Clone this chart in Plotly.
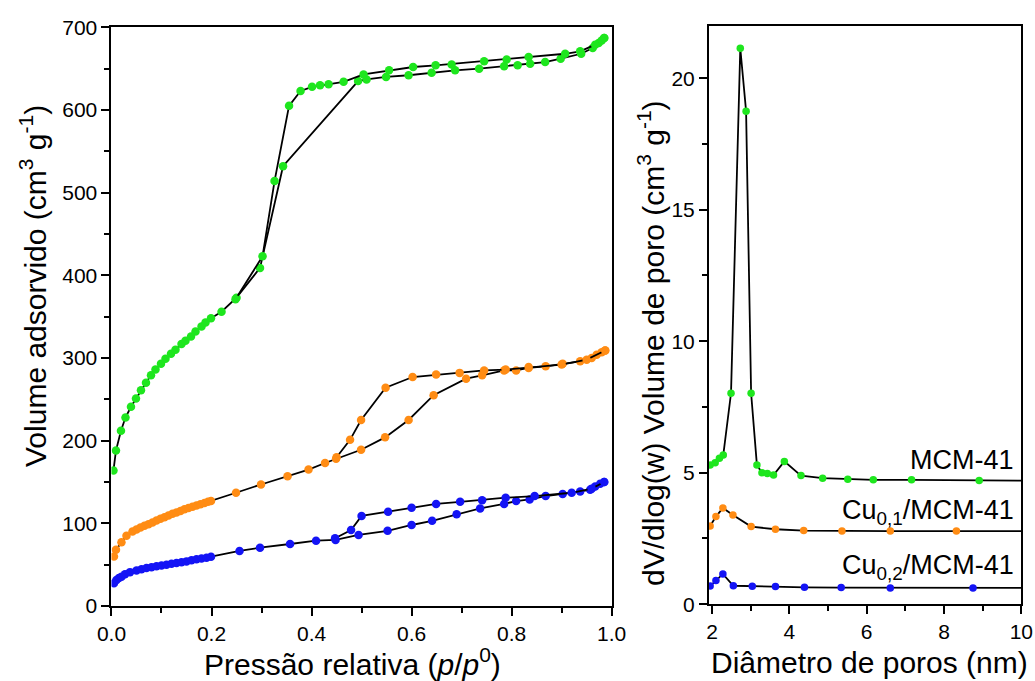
import plotly.graph_objects as go

# ---------------- Left panel: N2 isotherms ----------------
# MCM-41 (green)
green_ads_p = [0.004, 0.009, 0.019, 0.028, 0.039, 0.049, 0.059, 0.069, 0.079, 0.088, 0.099, 0.108,
               0.119, 0.128, 0.140, 0.148, 0.159, 0.168, 0.180, 0.188, 0.199, 0.220, 0.250, 0.297,
               0.343, 0.493, 0.510, 0.549, 0.594, 0.640, 0.687, 0.735, 0.785, 0.812, 0.837, 0.867,
               0.898, 0.939, 0.962, 0.974, 0.985]
green_ads_v = [164, 188, 212, 228, 241, 251, 261, 270, 279, 286, 293, 299,
               305, 310, 317, 321, 326, 332, 338, 343, 348, 356, 373, 409,
               532, 635, 637, 640, 642, 645, 648, 650, 653, 654, 656, 658,
               662, 668, 675, 681, 687]
green_des_p = [0.985, 0.980, 0.967, 0.937, 0.907, 0.834, 0.790, 0.745, 0.680, 0.648, 0.603, 0.555,
               0.504, 0.464, 0.434, 0.417, 0.401, 0.378, 0.355, 0.326, 0.302, 0.248]
green_des_v = [687, 684, 679, 671, 668, 664, 661, 659, 655, 654, 652, 648,
               643, 634, 631, 630, 628, 623, 605, 514, 423, 371]

# Cu0,1/MCM-41 (orange)
orange_ads_p = [0.005, 0.009, 0.020, 0.030, 0.042, 0.050, 0.058, 0.066, 0.074, 0.082, 0.090, 0.098,
                0.106, 0.114, 0.122, 0.130, 0.138, 0.146, 0.154, 0.162, 0.170, 0.178, 0.186, 0.193,
                0.199, 0.249, 0.299, 0.352, 0.394, 0.427, 0.449, 0.499, 0.547, 0.594, 0.644, 0.709,
                0.741, 0.785, 0.809, 0.834, 0.868, 0.902, 0.937, 0.960, 0.970, 0.980, 0.987]
orange_ads_v = [60, 68, 77, 85, 90, 92.5, 95, 97, 99, 101, 103.5, 105.5,
                107.5, 109.5, 111.5, 113, 115, 117, 118.5, 120, 121.5, 123, 124.5, 126,
                127, 137, 147, 157, 165, 173, 178, 189, 204, 225, 255, 275,
                279, 285, 285, 288, 290, 293, 296, 300, 304, 307, 309]
orange_des_p = [0.987, 0.950, 0.900, 0.834, 0.788, 0.745, 0.696, 0.649, 0.602, 0.548, 0.499, 0.477, 0.450]
orange_des_v = [309, 298, 292, 289, 286, 285, 282, 280, 277, 264, 225, 201, 180]

# Cu0,2/MCM-41 (blue)
blue_ads_p = [0.005, 0.010, 0.015, 0.020, 0.027, 0.037, 0.050, 0.060, 0.070, 0.080, 0.090, 0.100,
              0.110, 0.120, 0.130, 0.140, 0.150, 0.160, 0.170, 0.180, 0.190, 0.199, 0.256, 0.297,
              0.357, 0.409, 0.448, 0.494, 0.552, 0.600, 0.641, 0.690, 0.737, 0.785, 0.809, 0.836,
              0.868, 0.902, 0.937, 0.957, 0.967, 0.977, 0.985]
blue_ads_v = [27.5, 31.5, 34, 35.5, 38.5, 41, 43, 44.5, 46, 47, 48, 49,
              50, 51, 52, 53, 54, 55.5, 56.5, 57.5, 58.5, 59.7, 66.6, 70.6,
              75, 79, 80, 86, 91, 98, 103, 111, 118, 123.5, 127, 129,
              133, 135.6, 138.5, 140.5, 144.5, 148, 150]
blue_des_p = [0.985, 0.960, 0.920, 0.846, 0.788, 0.741, 0.697, 0.649, 0.600, 0.553, 0.500, 0.479, 0.447]
blue_des_v = [150, 142, 137, 133, 131, 128, 126, 123.5, 119, 114, 109, 92, 82]

# ---------------- Right panel: pore size distribution ----------------
psd_green_d = [1.95, 2.08, 2.19, 2.29, 2.49, 2.73, 2.88, 3.01, 3.16, 3.29, 3.43, 3.59, 3.87, 4.30,
               4.86, 5.51, 6.17, 7.16, 8.91]
psd_green_v = [5.29, 5.38, 5.55, 5.67, 8.02, 21.14, 18.75, 8.02, 5.29, 5.00, 4.97, 4.91, 5.43, 4.89,
               4.79, 4.75, 4.73, 4.73, 4.70]
psd_orange_d = [1.95, 2.10, 2.28, 2.54, 3.01, 3.64, 4.37, 5.36, 6.61, 8.32]
psd_orange_v = [2.97, 3.33, 3.66, 3.39, 2.95, 2.85, 2.80, 2.78, 2.78, 2.78]
psd_blue_d = [1.95, 2.10, 2.28, 2.55, 3.04, 3.64, 4.39, 5.34, 6.61, 8.75]
psd_blue_v = [0.69, 0.90, 1.15, 0.70, 0.68, 0.67, 0.64, 0.63, 0.62, 0.62]
psd_end_d = 10.0  # curves continue flat to the axis end

sample_labels = ["MCM-41", "Cu<sub>0,1</sub>/MCM-41", "Cu<sub>0,2</sub>/MCM-41"]
label_y = [5.5, 3.5, 1.4]

GREEN = "#1ee61e"
ORANGE = "#ff8c14"
BLUE = "#1414f5"
FONT = "Liberation Sans, Arial, sans-serif"

fig = go.Figure()

def iso(x, y, color):
    fig.add_trace(go.Scatter(x=x, y=y, mode="lines+markers", xaxis="x", yaxis="y",
                             line=dict(color="black", width=1.8),
                             marker=dict(color=color, size=8.5, line=dict(width=0)),
                             showlegend=False, hoverinfo="skip"))

for (xa, ya, xd, yd, c) in [(blue_ads_p, blue_ads_v, blue_des_p, blue_des_v, BLUE),
                            (orange_ads_p, orange_ads_v, orange_des_p, orange_des_v, ORANGE),
                            (green_ads_p, green_ads_v, green_des_p, green_des_v, GREEN)]:
    iso(xa, ya, c)
    iso(xd, yd, c)

for (d, v, c) in [(psd_green_d, psd_green_v, GREEN),
                  (psd_orange_d, psd_orange_v, ORANGE),
                  (psd_blue_d, psd_blue_v, BLUE)]:
    fig.add_trace(go.Scatter(x=d + [psd_end_d], y=v + [v[-1]], mode="lines", xaxis="x2", yaxis="y2",
                             line=dict(color="black", width=1.8), showlegend=False, hoverinfo="skip"))
    fig.add_trace(go.Scatter(x=d, y=v, mode="markers", xaxis="x2", yaxis="y2",
                             marker=dict(color=c, size=7.5, line=dict(width=0)),
                             showlegend=False, hoverinfo="skip"))

axis_common = dict(showgrid=False, zeroline=False, showline=True, linecolor="black", linewidth=2,
                   mirror=True, ticks="outside", ticklen=8, tickwidth=2, tickcolor="black",
                   automargin=False,
                   tickfont=dict(family=FONT, size=21, color="black"))

fig.update_layout(
    width=1035, height=681,
    margin=dict(l=0, r=0, t=0, b=0, pad=0, autoexpand=False),
    paper_bgcolor="white", plot_bgcolor="white",
    xaxis=dict(domain=[0.1077, 0.5910], range=[0, 1.0], dtick=0.2, tickformat=".1f",
               minor=dict(dtick=0.1, ticks="outside", ticklen=5, tickwidth=2, tickcolor="black"),
               anchor="y", **axis_common),
    yaxis=dict(domain=[0.1101, 0.9599], range=[0, 700], dtick=100,
               minor=dict(dtick=50, ticks="outside", ticklen=5, tickwidth=2, tickcolor="black"),
               anchor="x", **axis_common),
    xaxis2=dict(domain=[0.6850, 0.9868], range=[1.92, 10], dtick=2, tick0=0,
                minor=dict(dtick=1, ticks="outside", ticklen=5, tickwidth=2, tickcolor="black"),
                anchor="y2", **axis_common),
    yaxis2=dict(domain=[0.1128, 0.9623], range=[0, 22], dtick=5,
                minor=dict(dtick=2.5, ticks="outside", ticklen=5, tickwidth=2, tickcolor="black"),
                anchor="x2", **axis_common),
)

TF = dict(family=FONT, size=30, color="black")
anns = [
    dict(text="Pressão relativa (<i>p</i>/<i>p</i><sup>0</sup>)", x=352, y=662),
    dict(text="Diâmetro de poros (nm)", x=869, y=662),
    dict(text="Volume adsorvido (cm<sup>3</sup> g<sup>-1</sup>)", x=33, y=286, textangle=-90),
    dict(text="dV/dlog(w) Volume de poro (cm<sup>3</sup> g<sup>-1</sup>)", x=651, y=343, textangle=-90),
]
for a in anns:
    fig.add_annotation(xref="paper", yref="paper", x=a["x"] / 1035, y=1 - a["y"] / 681,
                       text=a["text"], showarrow=False, textangle=a.get("textangle", 0),
                       xanchor="center", yanchor="middle", font=TF)

for t, yy in zip(sample_labels, label_y):
    fig.add_annotation(xref="x2", yref="y2", x=9.86, y=yy, text=t, showarrow=False,
                       xanchor="right", yanchor="middle", font=dict(family=FONT, size=27, color="black"))

fig.write_html("out.html")
